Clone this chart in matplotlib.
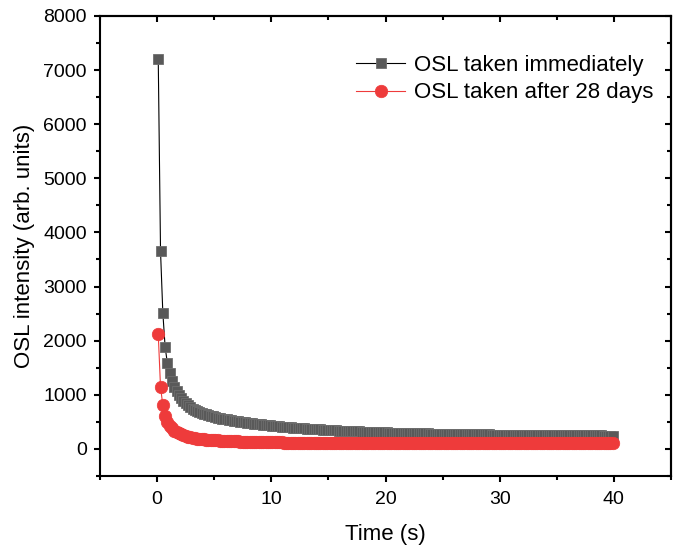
import numpy as np
import matplotlib
matplotlib.use("Agg")
import matplotlib.pyplot as plt
from matplotlib.ticker import MultipleLocator

plt.rcParams['font.family'] = ['Liberation Sans', 'DejaVu Sans']

# read-out channels, 0.2 s apart
time_s = np.round(np.arange(200) * 0.2 + 0.1, 2)

osl_immediate = [
    7200, 3650, 2520, 1890, 1580, 1400, 1260, 1150, 1065, 995,
    935, 885, 842, 805, 772, 745, 720, 700, 682, 664,
    650, 636, 622, 610, 600, 592, 580, 570, 561, 553,
    545, 538, 530, 522, 516, 509, 502, 496, 490, 484,
    478, 473, 468, 462, 458, 452, 447, 443, 439, 434,
    430, 425, 421, 417, 413, 409, 405, 401, 398, 394,
    391, 388, 385, 382, 378, 375, 372, 370, 367, 364,
    362, 359, 357, 354, 352, 349, 347, 345, 343, 340,
    338, 336, 334, 332, 330, 328, 326, 325, 323, 321,
    319, 318, 316, 315, 313, 311, 310, 309, 307, 306,
    305, 303, 302, 300, 299, 298, 297, 296, 294, 293,
    292, 291, 290, 289, 288, 288, 287, 285, 285, 284,
    283, 282, 281, 281, 280, 279, 278, 278, 277, 276,
    276, 275, 274, 274, 273, 272, 272, 271, 271, 270,
    270, 269, 268, 268, 268, 267, 266, 266, 265, 265,
    265, 264, 263, 263, 263, 262, 262, 261, 261, 260,
    260, 259, 259, 259, 258, 258, 257, 257, 257, 256,
    256, 256, 255, 255, 254, 254, 254, 253, 253, 253,
    252, 252, 252, 251, 251, 251, 250, 250, 250, 249,
    249, 249, 248, 248, 248, 247, 247, 247, 246, 246,
]

osl_28days = [
    2120, 1140, 810, 600, 500, 430, 378, 340, 310, 287,
    268, 252, 238, 226, 215, 206, 198, 191, 185, 180,
    176, 172, 168, 165, 162, 160, 158, 155, 152, 150,
    148, 146, 144, 142, 140, 139, 137, 136, 134, 133,
    131, 130, 129, 128, 127, 126, 125, 124, 123, 122,
    121, 121, 120, 119, 119, 118, 118, 117, 117, 116,
    116, 116, 115, 115, 115, 114, 114, 114, 114, 113,
    113, 113, 113, 113, 112, 112, 112, 112, 112, 112,
    112, 112, 111, 111, 111, 111, 111, 111, 111, 111,
    111, 111, 111, 111, 111, 110, 111, 111, 110, 110,
    111, 110, 111, 110, 110, 111, 110, 110, 111, 110,
    110, 111, 110, 110, 110, 111, 110, 110, 111, 110,
    110, 110, 111, 110, 110, 110, 111, 110, 110, 110,
    110, 111, 110, 110, 110, 110, 111, 110, 110, 110,
    111, 110, 110, 110, 110, 111, 110, 110, 110, 110,
    110, 111, 110, 110, 110, 110, 110, 111, 110, 110,
    110, 110, 111, 110, 110, 110, 110, 111, 110, 110,
    110, 110, 110, 111, 110, 110, 110, 110, 111, 110,
    110, 110, 110, 110, 111, 110, 110, 110, 110, 111,
    110, 110, 110, 110, 110, 111, 110, 110, 110, 112,
]

fig = plt.figure(figsize=(6.78, 5.49), dpi=100)
ax = fig.add_axes([0.1475, 0.133, 0.8422, 0.838])

ax.plot(time_s, osl_immediate, color='black', lw=0.8, marker='s', markersize=7.5,
        markerfacecolor='#595959', markeredgecolor='#6e6e6e', markeredgewidth=0.6,
        label='OSL taken immediately')
ax.plot(time_s, osl_28days, color='#ee3b3b', lw=0.8, marker='o', markersize=9,
        markerfacecolor='#ee3b3b', markeredgecolor='#ee3b3b', markeredgewidth=0.5,
        label='OSL taken after 28 days')

ax.set_xlim(-5, 45)
ax.set_ylim(-500, 8000)
ax.xaxis.set_major_locator(MultipleLocator(10))
ax.xaxis.set_minor_locator(MultipleLocator(5))
ax.yaxis.set_major_locator(MultipleLocator(1000))
ax.yaxis.set_minor_locator(MultipleLocator(500))

for s in ax.spines.values():
    s.set_linewidth(1.5)

ax.tick_params(which='both', direction='out', width=1.5, labelsize=14,
               top=False, right=False)
ax.tick_params(which='major', length=4.5)
ax.tick_params(which='minor', length=3)
ax.tick_params(axis='x', pad=6)
ax.tick_params(axis='y', pad=5)

# inward ticks on top and right, no labels
sec_x = ax.secondary_xaxis('top')
sec_x.xaxis.set_major_locator(MultipleLocator(10))
sec_x.xaxis.set_minor_locator(MultipleLocator(5))
sec_x.tick_params(which='both', direction='in', width=1.5, labeltop=False)
sec_x.tick_params(which='major', length=4.5)
sec_x.tick_params(which='minor', length=3)
sec_x.spines['top'].set_linewidth(1.5)
sec_y = ax.secondary_yaxis('right')
sec_y.yaxis.set_major_locator(MultipleLocator(1000))
sec_y.yaxis.set_minor_locator(MultipleLocator(500))
sec_y.tick_params(which='both', direction='in', width=1.5, labelright=False)
sec_y.tick_params(which='major', length=4.5)
sec_y.tick_params(which='minor', length=3)
sec_y.spines['right'].set_linewidth(1.5)

ax.set_xlabel('Time (s)', fontsize=16, labelpad=12)
ax.set_ylabel('OSL intensity (arb. units)', fontsize=16, labelpad=6)

ax.legend(loc='upper right', bbox_to_anchor=(0.985, 0.935), frameon=False,
          fontsize=16, handlelength=2.2, handletextpad=0.4, labelspacing=0.3,
          borderaxespad=0)

fig.savefig('out.png', dpi=100)
